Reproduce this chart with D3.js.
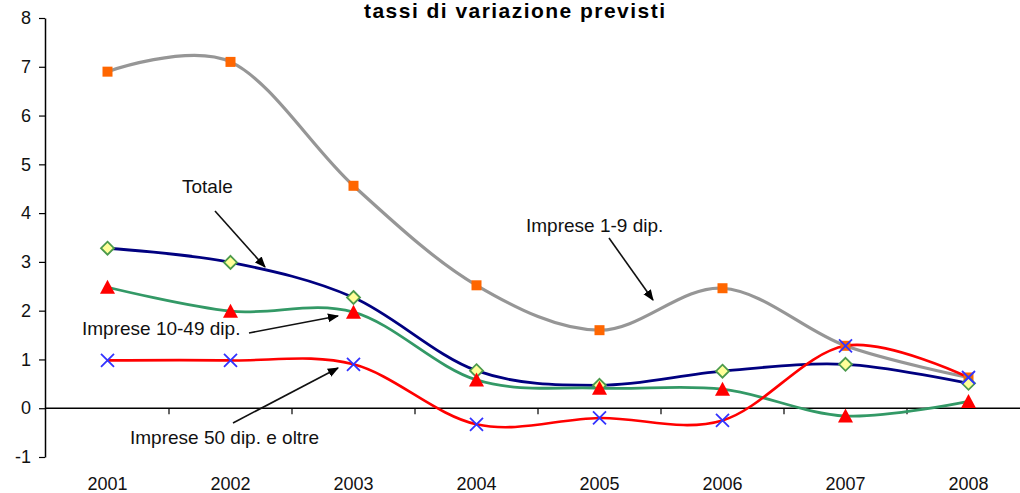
<!DOCTYPE html>
<html>
<head>
<meta charset="utf-8">
<script src="https://cdn.jsdelivr.net/npm/d3@7"></script>
<style>
  body { margin: 0; background: #fff; }
  svg { display: block; font-family: "Liberation Sans", Arial, sans-serif; }
</style>
</head>
<body>
<div id="chart"></div>
<script>
// data
const years = ["2001", "2002", "2003", "2004", "2005", "2006", "2007", "2008"];
const imprese1_9 = [6.9, 7.1, 4.56, 2.52, 1.6, 2.46, 1.28, 0.63];
const totale = [3.28, 2.99, 2.27, 0.77, 0.47, 0.76, 0.9, 0.51];
const imprese10_49 = [2.48, 1.99, 1.97, 0.58, 0.41, 0.39, -0.16, 0.14];
const imprese50 = [0.98, 0.98, 0.9, -0.33, -0.2, -0.25, 1.28, 0.63];
const yTicks = [-1, 0, 1, 2, 3, 4, 5, 6, 7, 8];
const title = "tassi di variazione previsti";

const width = 1020, height = 493;

const svg = d3.select("#chart").append("svg")
  .attr("width", width)
  .attr("height", height);

const x = d3.scaleBand().domain(years).range([46, 1030]).padding(0);
const y = d3.scaleLinear().domain([-1, 8]).range([457, 18]);
const cx = d => x(d) + x.bandwidth() / 2;

// title
svg.append("text")
  .attr("x", 364).attr("y", 18)
  .attr("textLength", 301).attr("lengthAdjust", "spacing")
  .style("font-size", "21px").style("font-weight", "bold")
  .text(title);

// y axis
const yAxis = svg.append("g")
  .attr("transform", "translate(45,0)")
  .call(d3.axisLeft(y).tickValues(yTicks).tickFormat(d => String(d))
    .tickSize(6).tickPadding(8).tickSizeOuter(0));
yAxis.select(".domain").attr("stroke", "#000").attr("stroke-width", 1.5);
yAxis.selectAll(".tick line").attr("stroke", "#000").attr("stroke-width", 1.2);
yAxis.selectAll(".tick text")
  .style("font-size", "18px").style("font-family", "Liberation Sans, Arial, sans-serif")
  .attr("fill", "#111");

// x axis at zero
const y0 = y(0);
svg.append("line")
  .attr("x1", 45).attr("x2", width)
  .attr("y1", y0).attr("y2", y0)
  .attr("stroke", "#000").attr("stroke-width", 1.5);
svg.selectAll(".xtick").data(years.slice(1))
  .enter().append("line")
  .attr("x1", d => x(d)).attr("x2", d => x(d))
  .attr("y1", y0).attr("y2", y0 + 6)
  .attr("stroke", "#000").attr("stroke-width", 1.2);
svg.selectAll(".xlab").data(years)
  .enter().append("text")
  .attr("x", cx).attr("y", 490)
  .attr("text-anchor", "middle")
  .style("font-size", "18px").attr("fill", "#111")
  .text(d => d);

// lines
const series = [
  { values: imprese1_9, color: "#969696", width: 3.2 },
  { values: totale, color: "#000080", width: 2.8 },
  { values: imprese10_49, color: "#339966", width: 2.8 },
  { values: imprese50, color: "#ff0000", width: 2.6 },
];

const line = d3.line()
  .x((d, i) => cx(years[i]))
  .y(d => y(d))
  .curve(d3.curveCatmullRom.alpha(0));

svg.selectAll(".series").data(series)
  .enter().append("path")
  .attr("d", d => line(d.values))
  .attr("fill", "none")
  .attr("stroke", d => d.color)
  .attr("stroke-width", d => d.width);

// markers
svg.selectAll(".sq").data(imprese1_9)
  .enter().append("rect")
  .attr("x", (d, i) => cx(years[i]) - 5)
  .attr("y", d => y(d) - 5)
  .attr("width", 10).attr("height", 10)
  .attr("fill", "#ff6600");

svg.selectAll(".dia").data(totale)
  .enter().append("path")
  .attr("transform", (d, i) => `translate(${cx(years[i])},${y(d)})`)
  .attr("d", "M0,-6.5L6.5,0L0,6.5L-6.5,0Z")
  .attr("fill", "#ffff99")
  .attr("stroke", "#4c9a4c")
  .attr("stroke-width", 1.8);

svg.selectAll(".tri").data(imprese10_49)
  .enter().append("path")
  .attr("transform", (d, i) => `translate(${cx(years[i])},${y(d)})`)
  .attr("d", "M0,-7.5L7.5,6.5L-7.5,6.5Z")
  .attr("fill", "#ff0000");

svg.selectAll(".cross").data(imprese50)
  .enter().append("path")
  .attr("transform", (d, i) => `translate(${cx(years[i])},${y(d)})`)
  .attr("d", "M-6.5,-6.5L6.5,6.5M-6.5,6.5L6.5,-6.5")
  .attr("stroke", "#3333ff")
  .attr("stroke-width", 1.8);

// annotations
svg.append("defs").append("marker")
  .attr("id", "head")
  .attr("viewBox", "0 0 10 10")
  .attr("refX", 9).attr("refY", 5)
  .attr("markerWidth", 7).attr("markerHeight", 7)
  .attr("orient", "auto")
  .append("path").attr("d", "M0,1L10,5L0,9Z").attr("fill", "#000");

const notes = [
  { text: "Totale", x: 182, y: 193, from: [215, 211], to: [265, 267] },
  { text: "Imprese 1-9 dip.", x: 526, y: 232, from: [609, 238], to: [653, 300] },
  { text: "Imprese 10-49 dip.", x: 82, y: 335, from: [249, 333], to: [338, 316] },
  { text: "Imprese 50 dip. e oltre", x: 130, y: 444, from: [233, 423], to: [338, 368] },
];

svg.selectAll(".arrow").data(notes)
  .enter().append("line")
  .attr("x1", d => d.from[0]).attr("y1", d => d.from[1])
  .attr("x2", d => d.to[0]).attr("y2", d => d.to[1])
  .attr("stroke", "#111").attr("stroke-width", 1.6)
  .attr("marker-end", "url(#head)");

svg.selectAll(".note").data(notes)
  .enter().append("text")
  .attr("x", d => d.x).attr("y", d => d.y)
  .style("font-size", "19px").attr("fill", "#111")
  .text(d => d.text);
</script>
</body>
</html>
